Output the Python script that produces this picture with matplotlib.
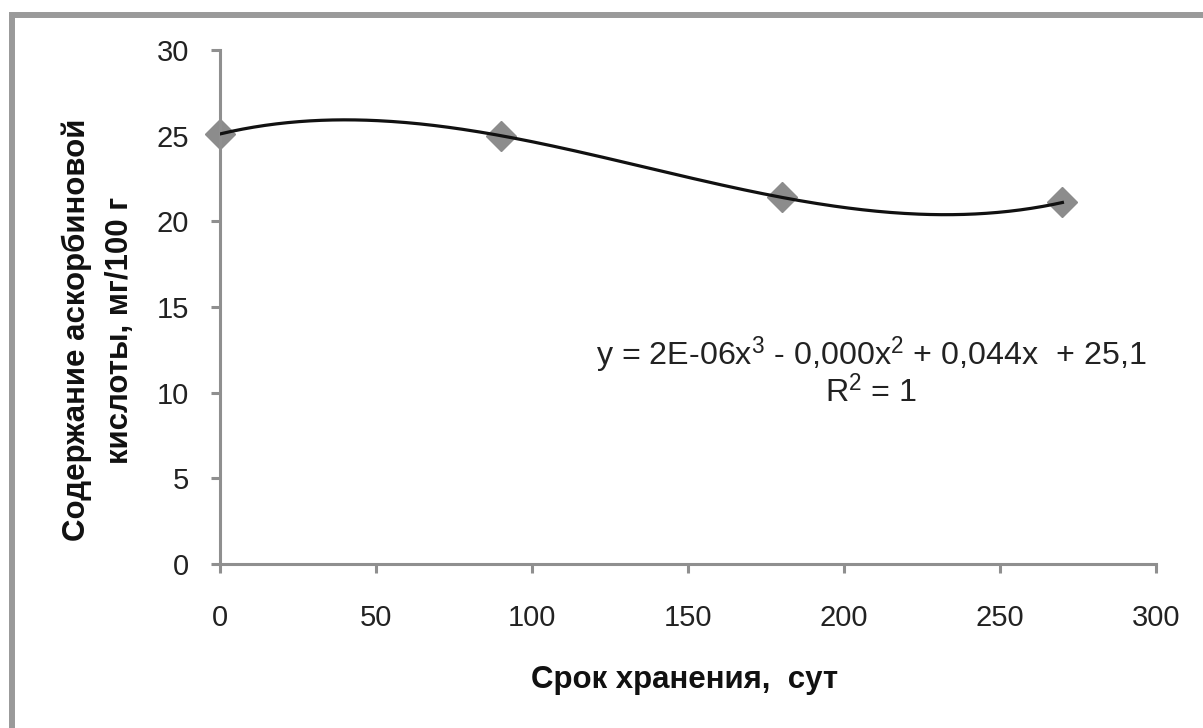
import numpy as np
import matplotlib
matplotlib.use("Agg")
import matplotlib.pyplot as plt
from matplotlib.patches import Rectangle

# Data
days = [0, 90, 180, 270]
ascorbic = [25.1, 25.0, 21.4, 21.1]
x_ticks = [0, 50, 100, 150, 200, 250, 300]
y_ticks = [0, 5, 10, 15, 20, 25, 30]
x_label = "Срок хранения,  сут"
y_label = "Содержание аскорбиновой\nкислоты, мг/100 г"
eq_line1 = r"y = 2E-06x$^{3}$ - 0,000x$^{2}$ + 0,044x  + 25,1"
eq_line2 = r"R$^{2}$ = 1"

W, H = 1203, 728
plt.rcParams['font.family'] = ['Liberation Sans', 'DejaVu Sans']
plt.rcParams['mathtext.fontset'] = 'custom'
plt.rcParams['mathtext.rm'] = 'Liberation Sans'
plt.rcParams['mathtext.default'] = 'regular'

fig = plt.figure(figsize=(W / 100, H / 100), dpi=100)
fig.patch.set_facecolor("white")

# outer grey frame (only left and top visible)
fig.add_artist(Rectangle((12 / W, -0.2), 1.5, 1 - 15 / H + 0.2,
                         transform=fig.transFigure, fill=False,
                         edgecolor="#9a9a9a", linewidth=4.3))

L, R, T, B = 220, 1156, 50, 564
ax = fig.add_axes([L / W, 1 - B / H, (R - L) / W, (B - T) / H])

# cubic trend (fit through the points)
coef = np.polyfit(days, ascorbic, 3)
xs = np.linspace(min(days), max(days), 300)
ax.plot(xs, np.polyval(coef, xs), color="#111111", lw=2.3, zorder=3)
ax.plot(days, ascorbic, linestyle="none", marker="D", markersize=15,
        color="#8c8c8c", markeredgecolor="#8c8c8c", zorder=2, clip_on=False)

ax.set_xlim(0, 300)
ax.set_ylim(0, 30)
ax.set_xticks(x_ticks)
ax.set_yticks(y_ticks)
ax.set_xticklabels([str(v) for v in x_ticks])
ax.set_yticklabels([str(v) for v in y_ticks])

for s in ["top", "right"]:
    ax.spines[s].set_visible(False)
for s in ["left", "bottom"]:
    ax.spines[s].set_color("#8f8f8f")
    ax.spines[s].set_linewidth(2.2)

ax.tick_params(axis="both", direction="out", length=6.5, width=2.2,
               color="#8f8f8f", labelsize=21, labelcolor="#222222")
ax.tick_params(axis="y", pad=16)
ax.tick_params(axis="x", pad=22)

fig.text(98 / W, 1 - 330 / H, y_label, rotation=90, ha="center", va="center",
         multialignment="center", fontsize=22.5, fontweight="bold",
         color="#111111", linespacing=1.55)
fig.text(685 / W, 1 - 680 / H, x_label, ha="center", va="center",
         fontsize=22.5, fontweight="bold", color="#111111")

fig.text(871 / W, 1 - 372 / H, eq_line1 + "\n" + eq_line2, ha="center",
         va="center", multialignment="center", fontsize=23.2,
         color="#222222", linespacing=0.95)

fig.savefig("out.png", dpi=100, facecolor="white")
